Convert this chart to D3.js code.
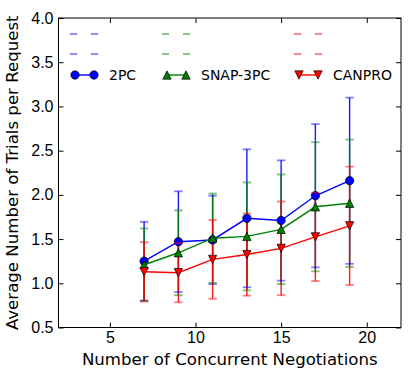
<!DOCTYPE html>
<meta charset="utf-8">
<title>Trials per Request</title>
<style>
  body { margin: 0; background: #fff; }
  svg { font-family: "DejaVu Sans", sans-serif; }
  .frame { fill: none; stroke: #000; stroke-width: 1px; }
  .axis path { display: none; }
  .axis line { stroke: #000; stroke-width: 1px; }
  .axis text { font-size: 16px; fill: #000; }
  .label { font-size: 16.6px; fill: #000; }
  .legend text { font-size: 14px; fill: #000; }
  .series { fill: none; stroke-width: 1.4px; }
  .bar { stroke-width: 1.4px; stroke-opacity: 0.9; }
  .cap { stroke-width: 1.8px; stroke-opacity: 0.5; }
  .marker { stroke: #000; stroke-width: 0.7px; }
</style>
<svg width="412" height="370"></svg>
<script src="https://d3js.org/d3.v7.min.js"></script>
<script>
  // number of concurrent negotiations
  var xs = [7, 9, 11, 13, 15, 17, 19];

  var names = ["2PC", "SNAP-3PC", "CANPRO"];

  var mean2pc = [1.25, 1.47, 1.49, 1.735, 1.71, 1.99, 2.16];
  var err2pc = [0.445, 0.57, 0.50, 0.78, 0.68, 0.81, 0.94];

  var meanSnap = [1.21, 1.345, 1.51, 1.53, 1.61, 1.865, 1.905];
  var errSnap = [0.41, 0.48, 0.505, 0.61, 0.62, 0.73, 0.72];

  var meanCan = [1.13, 1.12, 1.27, 1.325, 1.395, 1.525, 1.65];
  var errCan = [0.335, 0.335, 0.445, 0.465, 0.53, 0.50, 0.67];

  var xTicks = [5, 10, 15, 20];
  var yTicks = [0.5, 1.0, 1.5, 2.0, 2.5, 3.0, 3.5, 4.0];

  var series = [
    { name: names[0], mean: mean2pc, err: err2pc, color: "#0000ff", marker: "circle" },
    { name: names[1], mean: meanSnap, err: errSnap, color: "#008000", marker: "up" },
    { name: names[2], mean: meanCan, err: errCan, color: "#ff0000", marker: "down" }
  ];

  var svg = d3.select("svg");
  var pLeft = 58.5, pRight = 401, pTop = 18, pBottom = 327.5;

  var x = d3.scaleLinear().domain([2, 22]).range([pLeft, pRight]);
  var y = d3.scaleLinear().domain([0.5, 4.0]).range([pBottom, pTop]);

  // ticks on all four sides, pointing inward
  svg.append("g").attr("class", "axis")
    .attr("transform", "translate(0," + pBottom + ")")
    .call(d3.axisBottom(x).tickValues(xTicks).tickSize(-5).tickPadding(4).tickFormat(d3.format("d")));
  svg.append("g").attr("class", "axis")
    .attr("transform", "translate(0," + pTop + ")")
    .call(d3.axisTop(x).tickValues(xTicks).tickSize(-5).tickFormat(""));
  svg.append("g").attr("class", "axis")
    .attr("transform", "translate(" + pLeft + ",0)")
    .call(d3.axisLeft(y).tickValues(yTicks).tickSize(-5).tickPadding(5).tickFormat(d3.format(".1f")));
  svg.append("g").attr("class", "axis")
    .attr("transform", "translate(" + pRight + ",0)")
    .call(d3.axisRight(y).tickValues(yTicks).tickSize(-5).tickFormat(""));

  var s = 4.17;
  function markerPath(type) {
    if (type === "up") return "M0," + (-s) + "L" + (-s) + "," + s + "L" + s + "," + s + "Z";
    if (type === "down") return "M" + (-s) + "," + (-s) + "L" + s + "," + (-s) + "L0," + s + "Z";
    return d3.symbol(d3.symbolCircle, Math.PI * s * s)();
  }

  // vertical error bars first (drawn below all lines)
  series.forEach(function (sr) {
    svg.append("g").selectAll("line")
      .data(xs)
      .enter().append("line")
      .attr("class", "bar")
      .attr("stroke", sr.color)
      .attr("x1", function (d) { return x(d); })
      .attr("x2", function (d) { return x(d); })
      .attr("y1", function (d, i) { return y(sr.mean[i] - sr.err[i]); })
      .attr("y2", function (d, i) { return y(sr.mean[i] + sr.err[i]); });
  });

  var line = d3.line()
    .x(function (d) { return x(d[0]); })
    .y(function (d) { return y(d[1]); });

  series.forEach(function (sr) {
    var g = svg.append("g");
    var pts = xs.map(function (d, i) { return [d, sr.mean[i]]; });
    g.append("path")
      .datum(pts)
      .attr("class", "series")
      .attr("stroke", sr.color)
      .attr("d", line);
    g.selectAll(".marker")
      .data(pts)
      .enter().append("path")
      .attr("class", "marker")
      .attr("fill", sr.color)
      .attr("transform", function (d) { return "translate(" + x(d[0]) + "," + y(d[1]) + ")"; })
      .attr("d", markerPath(sr.marker));
    var caps = [];
    xs.forEach(function (d, i) {
      caps.push([d, sr.mean[i] + sr.err[i]]);
      caps.push([d, sr.mean[i] - sr.err[i]]);
    });
    g.selectAll(".cap")
      .data(caps)
      .enter().append("line")
      .attr("class", "cap")
      .attr("stroke", sr.color)
      .attr("x1", function (d) { return x(d[0]) - 4.2; })
      .attr("x2", function (d) { return x(d[0]) + 4.2; })
      .attr("y1", function (d) { return y(d[1]); })
      .attr("y2", function (d) { return y(d[1]); });
  });

  // legend
  var legendX = [75, 167, 299];
  var legend = svg.append("g").attr("class", "legend");
  series.forEach(function (sr, i) {
    var g = legend.append("g").attr("transform", "translate(" + legendX[i] + ",0)");
    [34, 54].forEach(function (yy) {
      [-1.5, 19.5].forEach(function (dx) {
        g.append("line")
          .attr("class", "cap")
          .attr("stroke", sr.color)
          .attr("x1", dx - 3.6).attr("x2", dx + 3.6)
          .attr("y1", yy).attr("y2", yy);
      });
    });
    g.append("line")
      .attr("stroke", sr.color)
      .attr("stroke-width", 1.4)
      .attr("x1", 0).attr("x2", 19)
      .attr("y1", 75).attr("y2", 75);
    [0, 19].forEach(function (dx) {
      g.append("path")
        .attr("class", "marker")
        .attr("fill", sr.color)
        .attr("transform", "translate(" + dx + ",75)")
        .attr("d", markerPath(sr.marker));
    });
    g.append("text")
      .attr("x", 34)
      .attr("y", 80)
      .text(sr.name);
  });

  svg.append("rect")
    .attr("class", "frame")
    .attr("x", pLeft).attr("y", pTop)
    .attr("width", pRight - pLeft).attr("height", pBottom - pTop);

  svg.append("text")
    .attr("class", "label")
    .attr("text-anchor", "middle")
    .attr("x", (pLeft + pRight) / 2)
    .attr("y", 365)
    .text("Number of Concurrent Negotiations");

  svg.append("text")
    .attr("class", "label")
    .attr("text-anchor", "middle")
    .attr("transform", "translate(18," + (pTop + pBottom) / 2 + ") rotate(-90)")
    .text("Average Number of Trials per Request");
</script>
